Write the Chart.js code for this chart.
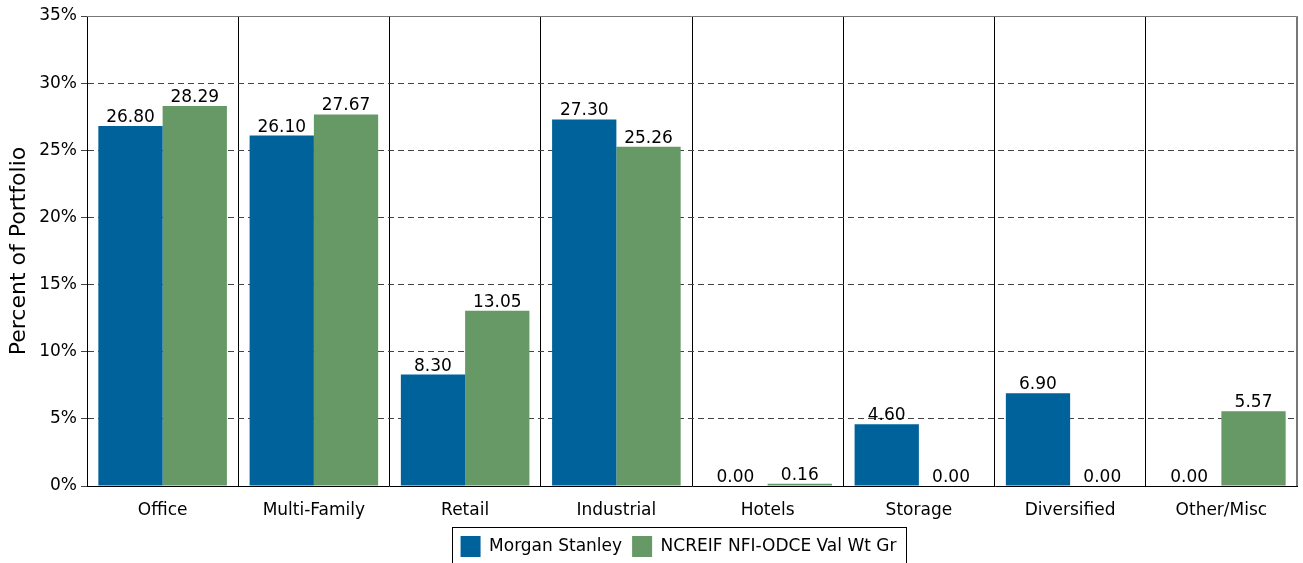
<!DOCTYPE html>
<html>
<head>
<meta charset="utf-8">
<script src="https://cdn.jsdelivr.net/npm/chart.js@4.4.1/dist/chart.umd.min.js"></script>
<style>
  html, body { margin: 0; padding: 0; background: #fff; }
  #wrap { width: 1303px; height: 563px; }
</style>
</head>
<body>
<div id="wrap"><canvas id="chart"></canvas></div>
<script>
// property types
const categories = ['Office', 'Multi-Family', 'Retail', 'Industrial', 'Hotels', 'Storage', 'Diversified', 'Other/Misc'];
const morganStanley = [26.80, 26.10, 8.30, 27.30, 0.00, 4.60, 6.90, 0.00];
const ncreif = [28.29, 27.67, 13.05, 25.26, 0.16, 0.00, 0.00, 5.57];
const yTicks = [0, 5, 10, 15, 20, 25, 30, 35];

const font = 'DejaVu Sans, Arial, sans-serif';

// value labels over each bar
const valueLabels = {
  id: 'valueLabels',
  afterDatasetsDraw(chart) {
    const ctx = chart.ctx;
    ctx.save();
    ctx.font = '17px ' + font;
    ctx.fillStyle = '#000';
    ctx.textAlign = 'center';
    ctx.textBaseline = 'alphabetic';
    chart.data.datasets.forEach((ds, i) => {
      chart.getDatasetMeta(i).data.forEach((bar, j) => {
        ctx.fillText(ds.data[j].toFixed(2), bar.x, bar.y - 4);
      });
    });
    ctx.restore();
  }
};

// gray frame top/right, legend nudged, box round the legend
const frame = {
  id: 'frame',
  afterLayout(chart) {
    const lg = chart.legend;
    lg.left += 30; lg.right += 30;
    lg.top += 4; lg.bottom += 4;
  },
  beforeDatasetsDraw(chart) {
    const a = chart.chartArea, ctx = chart.ctx;
    ctx.save();
    ctx.strokeStyle = '#777';
    ctx.lineWidth = 1;
    ctx.beginPath();
    ctx.moveTo(a.left, a.top + 0.5);
    ctx.lineTo(a.right - 0.5, a.top + 0.5);
    ctx.lineTo(a.right - 0.5, a.bottom);
    ctx.stroke();
    ctx.restore();
  },
  afterDraw(chart) {
    const boxes = chart.legend.legendHitBoxes;
    if (!boxes || !boxes.length) return;
    const ctx = chart.ctx;
    const first = boxes[0], last = boxes[boxes.length - 1];
    const l = first.left - 9, r = last.left + last.width + 9;
    const t = first.top - 9;
    ctx.save();
    ctx.strokeStyle = '#000';
    ctx.lineWidth = 1;
    ctx.strokeRect(Math.round(l) + 0.5, Math.round(t) + 0.5, Math.round(r - l), 60);
    ctx.restore();
  }
};

new Chart(document.getElementById('chart'), {
  type: 'bar',
  data: {
    labels: categories,
    datasets: [
      { label: 'Morgan Stanley', data: morganStanley, backgroundColor: '#00629b' },
      { label: 'NCREIF NFI-ODCE Val Wt Gr', data: ncreif, backgroundColor: '#669966' }
    ]
  },
  options: {
    responsive: true,
    maintainAspectRatio: false,
    animation: false,
    layout: { padding: { top: 16, right: 6, bottom: 0, left: 0 } },
    datasets: { bar: { categoryPercentage: 0.85, barPercentage: 1.0 } },
    plugins: {
      legend: {
        position: 'bottom',
        labels: {
          color: '#000',
          font: { family: font, size: 17 },
          boxWidth: 20,
          boxHeight: 21,
          padding: 10
        }
      },
      tooltip: { enabled: false }
    },
    scales: {
      x: {
        grid: {
          offset: true,
          drawTicks: false,
          color: (c) => c.type === 'scale' ? '#777' : '#000'
        },
        border: { color: '#000', width: 1 },
        ticks: { color: '#000', font: { family: font, size: 17 }, padding: 14 },
        afterFit(scale) { scale.height = 36; }
      },
      y: {
        min: 0,
        max: 35,
        afterBuildTicks(scale) { scale.ticks = yTicks.map(v => ({ value: v })); },
        grid: {
          color: (c) => (c.tick && (c.tick.value === 0 || c.tick.value === 35)) ? 'rgba(0,0,0,0)' : '#444',
          tickLength: 6,
          tickColor: '#444',
          tickBorderDash: [6, 4]
        },
        border: { color: '#000', width: 1, dash: [6, 4] },
        ticks: {
          color: '#000',
          font: { family: font, size: 17 },
          padding: 4,
          callback: (v) => v + '%'
        },
        title: {
          display: true,
          text: 'Percent of Portfolio',
          color: '#000',
          font: { family: font, size: 22 },
          padding: { top: 6, bottom: 0 }
        },
        afterFit(scale) { scale.width = 87; }
      }
    }
  },
  plugins: [valueLabels, frame]
});
</script>
</body>
</html>
